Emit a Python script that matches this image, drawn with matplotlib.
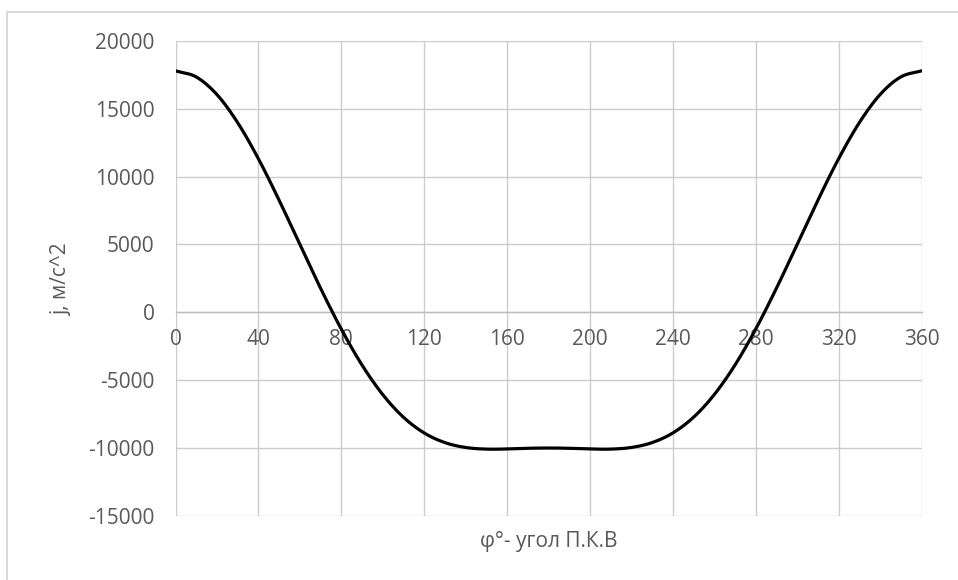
import numpy as np
import matplotlib
matplotlib.use("Agg")
import matplotlib.pyplot as plt
from matplotlib.lines import Line2D

# Data
angle_deg = [0, 10, 20, 30, 40, 50, 60, 70, 80, 90, 100, 110, 120, 130, 140, 150, 160, 170, 180,
             190, 200, 210, 220, 230, 240, 250, 260, 270, 280, 290, 300, 310, 320, 330, 340, 350, 360]
accel = [17800, 17350, 16050, 13980, 11320, 8260, 5000, 1770, -1240, -3890, -6070, -7740, -8900,
         -9610, -9970, -10090, -10080, -10030, -10010, -10030, -10080, -10090, -9970, -9610, -8900,
         -7740, -6070, -3890, -1240, 1770, 5000, 8260, 11320, 13980, 16050, 17350, 17800]
x_ticks = [0, 40, 80, 120, 160, 200, 240, 280, 320, 360]
y_ticks = [-15000, -10000, -5000, 0, 5000, 10000, 15000, 20000]
x_label = "φ°- угол П.К.В"
y_label = "j, м/с^2"


def catmull_rom(x, y, n=20):
    x = np.asarray(x, float)
    y = np.asarray(y, float)
    px = np.concatenate([[2 * x[0] - x[1]], x, [2 * x[-1] - x[-2]]])
    py = np.concatenate([[2 * y[0] - y[1]], y, [2 * y[-1] - y[-2]]])
    xs, ys = [], []
    t = np.linspace(0, 1, n, endpoint=False)
    for i in range(1, len(px) - 2):
        for arr, out in ((px, xs), (py, ys)):
            p0, p1, p2, p3 = arr[i - 1], arr[i], arr[i + 1], arr[i + 2]
            out.append(0.5 * ((2 * p1) + (-p0 + p2) * t
                              + (2 * p0 - 5 * p1 + 4 * p2 - p3) * t ** 2
                              + (-p0 + 3 * p1 - 3 * p2 + p3) * t ** 3))
    xs.append([x[-1]])
    ys.append([y[-1]])
    return np.concatenate(xs), np.concatenate(ys)


plt.rcParams['font.family'] = ['Open Sans', 'DejaVu Sans']
plt.rcParams['axes.unicode_minus'] = False
text_color = '#595959'
grid_color = '#cccccc'

fig = plt.figure(figsize=(9.58, 5.8), dpi=100)
ax = fig.add_axes([175.5 / 958, (580 - 515.7) / 580, 746 / 958, (515.7 - 41) / 580])

sx, sy = catmull_rom(angle_deg, accel)
ax.plot(sx, sy, color='black', lw=2.3, solid_capstyle='round', zorder=3)

ax.set_xlim(0, 360)
ax.set_ylim(-15000, 20000)
ax.set_xticks(x_ticks)
ax.set_yticks(y_ticks)
ax.grid(True, color=grid_color, lw=1.0)
ax.set_axisbelow(True)

for s in ['top', 'right', 'left']:
    ax.spines[s].set_visible(False)
ax.spines['bottom'].set_position(('data', 0))
ax.spines['bottom'].set_color('#bfbfbf')
ax.spines['bottom'].set_linewidth(1.0)

ax.tick_params(axis='x', length=0, pad=12, labelsize=15, labelcolor=text_color)
ax.tick_params(axis='y', length=0, pad=15, labelsize=15, labelcolor=text_color)

fig.text(548.7 / 958, 1 - 542 / 580, x_label, ha='center', va='center', fontsize=15, color=text_color)
fig.text(62 / 958, 1 - 280 / 580, y_label, ha='center', va='center', rotation=90, fontsize=15, color=text_color)

# outer chart border (top and left visible, as in reference)
fig.add_artist(Line2D([7 / 958, 1.0], [1 - 12 / 580, 1 - 12 / 580], transform=fig.transFigure, color='#d9d9d9', lw=1.5))
fig.add_artist(Line2D([7 / 958, 7 / 958], [1 - 12 / 580, 0.0], transform=fig.transFigure, color='#d9d9d9', lw=1.5))

fig.savefig('out.png', dpi=100, facecolor='white')
